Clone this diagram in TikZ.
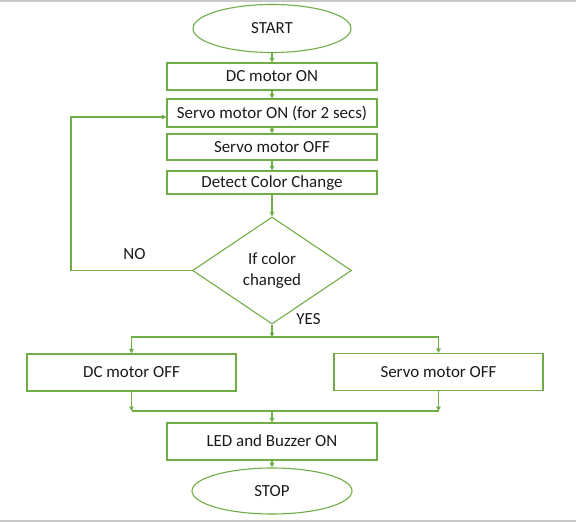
\documentclass[tikz,border=0pt]{standalone}
\usepackage{fontspec}
\setmainfont{Carlito}
\usepackage{tikz}
\usetikzlibrary{arrows.meta,positioning,shapes.geometric}
\definecolor{flowgreen}{HTML}{70AD47}
\definecolor{framegray}{HTML}{C8C8C8}
\definecolor{labelink}{HTML}{1A1A1A}

\begin{document}
\begin{tikzpicture}[
  x=1bp, y=-1bp,
  >={Triangle[length=4.5bp,width=4.5bp]},
  font=\fontsize{17}{20.5}\selectfont,
  text=labelink,
  procbox/.style={
    draw=flowgreen,
    line width=1.1bp,
    minimum width=210bp,
    inner sep=0pt,
    text height=10.9bp,
    text depth=0pt,
    align=center
  },
  terminal/.style={
    ellipse,
    draw=flowgreen,
    line width=1.1bp,
    minimum width=158bp,
    minimum height=48bp,
    inner sep=0pt,
    text height=10.9bp,
    text depth=0pt
  },
  decision/.style={
    diamond,
    draw=flowgreen,
    line width=1.1bp,
    minimum width=159bp,
    minimum height=107bp,
    aspect=1.5,
    inner sep=0pt,
    align=center
  },
  branchlabel/.style={inner sep=0pt, text height=10.9bp, text depth=0pt},
  flowline/.style={draw=flowgreen, line width=1.1bp}
]

  \useasboundingbox (0,0) rectangle (576,522);

  % Frame edges of the page
  \fill[framegray] (0,0) rectangle (576,1.7);
  \fill[framegray] (0,519.7) rectangle (576,522);

  % Main column
  \node[terminal] (start) at (272,28.5) {START};
  \node[procbox, minimum height=27bp] (dcon) at (272,76.5) {DC motor ON};
  \node[procbox, minimum height=28bp] (svon) at (272,113) {Servo motor ON (for 2 secs)};
  \node[procbox, minimum height=26bp] (svoff) at (272,147) {Servo motor OFF};
  \node[procbox, minimum height=23bp] (detect) at (272,182.5) {Detect Color Change};
  \node[decision] (dec) at (272,270.5) {If color\\changed};

  % Branch labels
  \node[branchlabel] (nolbl) at (134.5,254) {NO};
  \node[branchlabel] (yeslbl) at (308.5,319) {YES};

  % Parallel stop boxes
  \node[procbox, minimum width=209bp, minimum height=37bp] (dcoff) at (131.5,372.5) {DC motor OFF};
  \node[procbox, minimum width=209bp, minimum height=37bp] (svstop) at (438.5,372) {Servo motor OFF};

  % Alarm and end
  \node[procbox, minimum height=37bp] (led) at (272,441.5) {LED and Buzzer ON};
  \node[terminal, minimum width=160bp, minimum height=46bp] (stop) at (272,491) {STOP};

  % Connectors down the main column
  \draw[flowline,->] (start.south) -- (dcon.north);
  \draw[flowline,->] (dcon.south) -- (svon.north);
  \draw[flowline,->] (svon.south) -- (svoff.north);
  \draw[flowline,->] (svoff.south) -- (detect.north);
  \draw[flowline,->] (detect.south) -- (dec.north);

  % NO loop back to the servo
  \coordinate (loopturn) at (71,117);
  \draw[flowline,->] (dec.west) -| (loopturn) -- (svon.west |- loopturn);

  % YES split into both boxes
  \coordinate (split) at (272,337);
  \draw[flowline,->] (dec.south) -- (split);
  \draw[flowline,->] (split) -| (dcoff.north);
  \draw[flowline,->] (split) -| (svstop.north);

  % Merge into the alarm box
  \coordinate (merge) at (272,411);
  \draw[flowline,->] (dcoff.south) -- (dcoff.south |- merge);
  \draw[flowline,->] (svstop.south) -- (svstop.south |- merge);
  \draw[flowline] (dcoff.south |- merge) -- (svstop.south |- merge);
  \draw[flowline,->] (merge) -- (led.north);
  \draw[flowline,->] (led.south) -- (stop.north);

\end{tikzpicture}
\end{document}
